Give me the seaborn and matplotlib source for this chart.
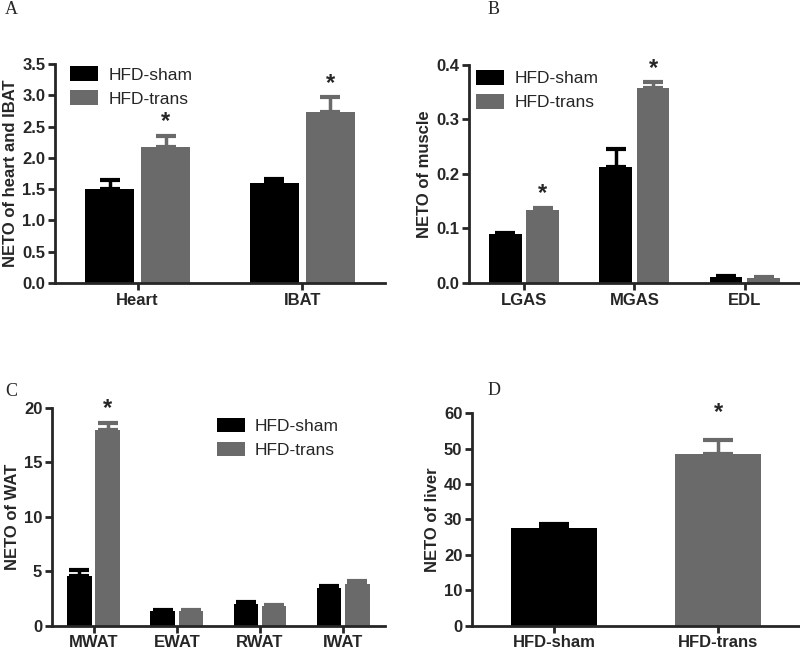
import numpy as np
import pandas as pd
import matplotlib
matplotlib.use('Agg')
import matplotlib.pyplot as plt
import seaborn as sns

# panel A
a_cats = ['Heart', 'IBAT']
a_sham = [1.50, 1.60]
a_sham_err = [0.14, 0.07]
a_trans = [2.18, 2.73]
a_trans_err = [0.17, 0.24]

# panel B
b_cats = ['LGAS', 'MGAS', 'EDL']
b_sham = [0.090, 0.213, 0.011]
b_sham_err = [0.002, 0.032, 0.001]
b_trans = [0.134, 0.358, 0.010]
b_trans_err = [0.004, 0.010, 0.001]

# panel C
c_cats = ['MWAT', 'EWAT', 'RWAT', 'IWAT']
c_sham = [4.6, 1.3, 2.0, 3.45]
c_sham_err = [0.5, 0.1, 0.2, 0.15]
c_trans = [18.0, 1.35, 1.8, 3.85]
c_trans_err = [0.6, 0.05, 0.1, 0.2]

# panel D
d_groups = ['HFD-sham', 'HFD-trans']
d_vals = [27.6, 48.6]
d_err = [1.1, 3.8]

groups = ['HFD-sham', 'HFD-trans']
colors = {'HFD-sham': '#000000', 'HFD-trans': '#6a6a6a'}

sns.set_style('ticks')
plt.rcParams['font.family'] = ['Liberation Sans', 'DejaVu Sans']
plt.rcParams['font.weight'] = 'bold'


def style_axis(ax, ylim, step, fmt):
    sns.despine(ax=ax)
    ax.set_ylim(*ylim)
    ax.set_yticks(np.arange(ylim[0], ylim[1] + step / 2, step))
    ax.yaxis.set_major_formatter(matplotlib.ticker.FormatStrFormatter(fmt))
    for s in ['left', 'bottom']:
        ax.spines[s].set_linewidth(2)
    ax.tick_params(width=2, length=5, labelsize=12, pad=2)
    for t in ax.get_xticklabels() + ax.get_yticklabels():
        t.set_fontweight('bold')
    ax.set_xlabel('')


def grouped(ax, cats, sham, sham_err, trans, trans_err, stars, ylabel):
    df = pd.DataFrame({
        'cat': cats * 2,
        'val': list(sham) + list(trans),
        'err': list(sham_err) + list(trans_err),
        'grp': ['HFD-sham'] * len(cats) + ['HFD-trans'] * len(cats),
    })
    sns.barplot(data=df, x='cat', y='val', hue='grp', palette=colors,
                errorbar=None, width=0.68, gap=0.13, ax=ax, saturation=1,
                linewidth=0)
    n = len(cats)
    for i, p in enumerate(ax.patches[:2 * n]):
        x = p.get_x() + p.get_width() / 2
        v = df['val'][i]
        e = df['err'][i]
        col = colors[df['grp'][i]]
        ax.errorbar(x, v, yerr=[[0], [e]], fmt='none', ecolor=col,
                    elinewidth=2.5, capsize=7, capthick=3)
        if df['grp'][i] == 'HFD-trans' and stars[i - n]:
            ax.annotate('*', (x, v + e), xytext=(0, 2), textcoords='offset points',
                        ha='center', va='bottom', fontsize=17, fontweight='bold',
                        annotation_clip=False)
    ax.set_xlim(-0.5, n - 0.5)
    ax.set_ylabel(ylabel, fontsize=12, fontweight='bold', labelpad=3)


fig = plt.figure(figsize=(8, 6.55), dpi=100)
axA = fig.add_axes([0.069, 0.568, 0.412, 0.334])
axB = fig.add_axes([0.586, 0.568, 0.414, 0.333])
axC = fig.add_axes([0.065, 0.045, 0.416, 0.332])
axD = fig.add_axes([0.590, 0.045, 0.410, 0.324])

grouped(axA, a_cats, a_sham, a_sham_err, a_trans, a_trans_err, [True, True],
        'NETO of heart and IBAT')
style_axis(axA, (0, 3.5), 0.5, '%.1f')

grouped(axB, b_cats, b_sham, b_sham_err, b_trans, b_trans_err, [True, True, False],
        'NETO of muscle')
style_axis(axB, (0, 0.4), 0.1, '%.1f')

grouped(axC, c_cats, c_sham, c_sham_err, c_trans, c_trans_err, [True, False, False, False],
        'NETO of WAT')
style_axis(axC, (0, 20), 5, '%d')

sns.barplot(x=d_groups, y=d_vals, hue=d_groups, palette=colors, dodge=False,
            width=0.52, errorbar=None, ax=axD, saturation=1, linewidth=0)
for i, p in enumerate(axD.patches[:2]):
    x = p.get_x() + p.get_width() / 2
    axD.errorbar(x, d_vals[i], yerr=[[0], [d_err[i]]], fmt='none',
                 ecolor=colors[d_groups[i]], elinewidth=2.5, capsize=11, capthick=3)
xs = axD.patches[1].get_x() + axD.patches[1].get_width() / 2
axD.annotate('*', (xs, d_vals[1] + d_err[1]), xytext=(0, 12), textcoords='offset points',
             ha='center', va='bottom', fontsize=17, fontweight='bold', annotation_clip=False)
axD.set_xlim(-0.5, 1.5)
axD.set_ylabel('NETO of liver', fontsize=12, fontweight='bold', labelpad=3)
style_axis(axD, (0, 60), 10, '%d')

leg_kw = dict(frameon=False, fontsize=12.5, handlelength=1.6, handleheight=0.9,
              handletextpad=0.6, labelspacing=0.45, borderaxespad=0, borderpad=0)
for ax, anchor in [(axA, (0.045, 0.99)), (axB, (0.022, 0.975)),
                   (axC, (0.495, 0.955)), (axD, (0.085, 0.96))]:
    h, l = ax.get_legend_handles_labels()
    leg = ax.legend(h[:2], l[:2], loc='upper left', bbox_to_anchor=anchor, **leg_kw)
    for t in leg.get_texts():
        t.set_fontweight('normal')

serif = dict(family=['Liberation Serif', 'DejaVu Serif'], fontsize=13, fontweight='normal',
             va='center', ha='left')
fig.text(5 / 800, 1 - 9 / 655, 'A', **serif)
fig.text(488 / 800, 1 - 9 / 655, 'B', **serif)
fig.text(5 / 800, 1 - 392 / 655, 'C', **serif)
fig.text(488 / 800, 1 - 391 / 655, 'D', **serif)

fig.savefig('out.png', dpi=100)
